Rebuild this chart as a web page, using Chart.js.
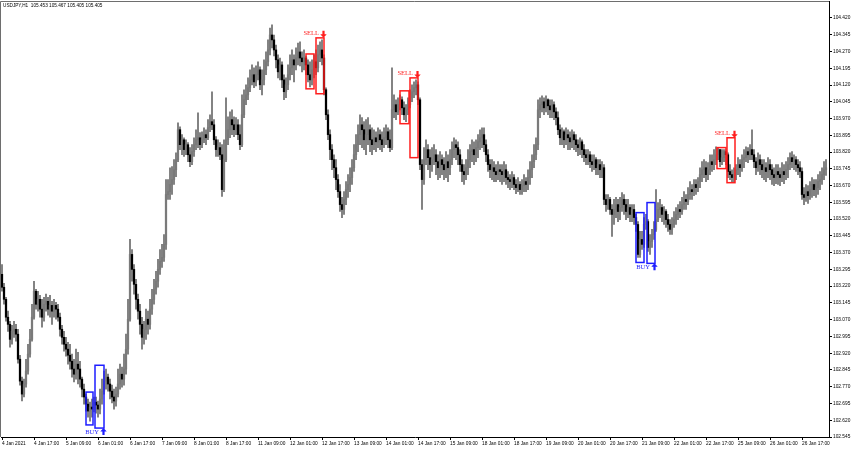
<!DOCTYPE html>
<html>
<head>
<meta charset="utf-8">
<title>USDJPY H1</title>
<script src="https://cdn.jsdelivr.net/npm/chart.js@4.4.1/dist/chart.umd.min.js"></script>
<style>
  html, body { margin: 0; padding: 0; background: #fff; }
  #wrap { width: 852px; height: 450px; }
</style>
</head>
<body>
<div id="wrap"><canvas id="chart" width="852" height="450"></canvas></div>
<script>
// USDJPY H1, one entry per hourly bar from 4 Jan 2021
const chartTitle = 'USDJPY,H1  105.453 105.467 105.405 105.405';
const firstOpen = 103.273;

const highs = [
  103.317, 103.233, 103.170, 103.108, 103.063, 103.045, 103.063, 103.049, 103.027, 102.911,
  102.813, 102.804, 102.893, 102.960, 103.027, 103.139, 103.242, 103.206, 103.197, 103.179,
  103.161, 103.170, 103.184, 103.170, 103.179, 103.152, 103.161, 103.148, 103.139, 103.099,
  103.045, 103.018, 102.991, 102.969, 102.960, 102.916, 102.893, 102.938, 102.924, 102.884,
  102.813, 102.782, 102.737, 102.715, 102.701, 102.715, 102.724, 102.724, 102.706, 102.759,
  102.804, 102.840, 102.849, 102.826, 102.804, 102.777, 102.759, 102.768, 102.849, 102.871,
  102.858, 102.916, 103.005, 103.161, 103.429, 103.384, 103.317, 103.250, 103.184, 103.139,
  103.081, 103.063, 103.117, 103.108, 103.161, 103.206, 103.250, 103.286, 103.340, 103.384,
  103.407, 103.451, 103.697, 103.697, 103.750, 103.755, 103.786, 103.817, 103.951, 103.933,
  103.898, 103.884, 103.875, 103.862, 103.840, 103.853, 103.884, 103.920, 103.996, 103.907,
  103.911, 103.929, 103.920, 103.965, 103.987, 104.090, 103.965, 103.889, 103.875, 103.862,
  103.853, 103.875, 104.063, 103.978, 104.000, 104.009, 103.978, 103.974, 103.965, 103.942,
  104.076, 104.099, 104.121, 104.152, 104.188, 104.210, 104.197, 104.206, 104.224, 104.201,
  104.188, 104.233, 104.268, 104.322, 104.375, 104.389, 104.344, 104.299, 104.255, 104.241,
  104.224, 104.166, 104.152, 104.210, 104.255, 104.277, 104.255, 104.286, 104.308, 104.313,
  104.268, 104.277, 104.250, 104.233, 104.224, 104.233, 104.255, 104.277, 104.299, 104.313,
  104.322, 104.255, 104.108, 104.009, 103.920, 103.853, 103.808, 103.786, 103.719, 103.675,
  103.617, 103.643, 103.688, 103.719, 103.750, 103.786, 103.853, 103.898, 103.942, 103.987,
  103.974, 103.956, 103.965, 103.974, 103.942, 103.929, 103.920, 103.911, 103.929, 103.920,
  103.911, 103.929, 103.942, 103.929, 103.920, 104.197, 104.076, 104.054, 104.063, 104.076,
  104.067, 104.045, 104.032, 104.063, 104.099, 104.121, 104.134, 104.143, 104.134, 104.063,
  103.786, 103.840, 103.875, 103.853, 103.831, 103.840, 103.853, 103.831, 103.808, 103.822,
  103.808, 103.795, 103.822, 103.808, 103.831, 103.866, 103.884, 103.875, 103.866, 103.831,
  103.786, 103.764, 103.786, 103.831, 103.853, 103.875, 103.866, 103.875, 103.898, 103.920,
  103.929, 103.929, 103.875, 103.831, 103.786, 103.786, 103.777, 103.764, 103.777, 103.764,
  103.764, 103.777, 103.764, 103.733, 103.719, 103.733, 103.719, 103.697, 103.706, 103.688,
  103.697, 103.719, 103.706, 103.741, 103.777, 103.808, 103.853, 103.884, 104.054, 104.063,
  104.072, 104.063, 104.072, 104.058, 104.054, 104.054, 104.045, 104.018, 104.000, 103.942,
  103.929, 103.920, 103.929, 103.920, 103.911, 103.920, 103.911, 103.898, 103.875, 103.884,
  103.875, 103.853, 103.831, 103.831, 103.822, 103.808, 103.808, 103.795, 103.786, 103.786,
  103.777, 103.764, 103.630, 103.630, 103.617, 103.585, 103.608, 103.617, 103.608, 103.617,
  103.639, 103.630, 103.608, 103.608, 103.585, 103.585, 103.585, 103.541, 103.509, 103.465,
  103.465, 103.527, 103.541, 103.518, 103.451, 103.474, 103.509, 103.652, 103.594, 103.608,
  103.585, 103.576, 103.563, 103.541, 103.518, 103.527, 103.554, 103.572, 103.585, 103.599,
  103.617, 103.643, 103.630, 103.661, 103.688, 103.675, 103.697, 103.697, 103.706, 103.750,
  103.777, 103.786, 103.777, 103.773, 103.808, 103.808, 103.831, 103.844, 103.840, 103.831,
  103.831, 103.831, 103.831, 103.817, 103.764, 103.741, 103.750, 103.764, 103.795, 103.786,
  103.808, 103.831, 103.844, 103.840, 103.853, 103.920, 103.831, 103.795, 103.817, 103.808,
  103.786, 103.786, 103.773, 103.795, 103.786, 103.764, 103.750, 103.764, 103.764, 103.750,
  103.773, 103.764, 103.777, 103.795, 103.817, 103.822, 103.808, 103.800, 103.786, 103.777,
  103.750, 103.661, 103.675, 103.670, 103.688, 103.706, 103.697, 103.697, 103.719, 103.733,
  103.750, 103.777, 103.786
];

const lows = [
  103.197, 103.139, 103.063, 103.018, 102.947, 102.960, 102.991, 102.974, 102.875, 102.777,
  102.706, 102.724, 102.768, 102.826, 102.902, 102.974, 103.072, 103.117, 103.108, 103.081,
  103.036, 103.063, 103.108, 103.090, 103.081, 103.049, 103.081, 103.072, 103.063, 102.996,
  102.960, 102.929, 102.907, 102.871, 102.849, 102.813, 102.791, 102.804, 102.782, 102.768,
  102.724, 102.692, 102.661, 102.634, 102.616, 102.634, 102.657, 102.652, 102.634, 102.648,
  102.692, 102.737, 102.759, 102.750, 102.715, 102.697, 102.670, 102.683, 102.724, 102.759,
  102.768, 102.777, 102.826, 102.916, 103.063, 103.242, 103.184, 103.117, 103.072, 103.005,
  102.938, 102.960, 102.982, 103.005, 103.027, 103.094, 103.139, 103.184, 103.215, 103.273,
  103.304, 103.331, 103.384, 103.608, 103.608, 103.630, 103.675, 103.710, 103.777, 103.831,
  103.808, 103.800, 103.808, 103.777, 103.755, 103.764, 103.800, 103.831, 103.840, 103.831,
  103.840, 103.862, 103.853, 103.875, 103.911, 103.920, 103.853, 103.800, 103.800, 103.786,
  103.621, 103.643, 103.777, 103.853, 103.884, 103.898, 103.889, 103.898, 103.875, 103.831,
  103.844, 103.974, 104.032, 104.054, 104.090, 104.121, 104.108, 104.116, 104.143, 104.099,
  104.076, 104.121, 104.166, 104.206, 104.255, 104.286, 104.250, 104.197, 104.152, 104.143,
  104.108, 104.054, 104.063, 104.099, 104.143, 104.166, 104.134, 104.188, 104.210, 104.206,
  104.179, 104.188, 104.166, 104.134, 104.112, 104.121, 104.152, 104.166, 104.179, 104.224,
  104.210, 104.076, 103.965, 103.875, 103.786, 103.741, 103.706, 103.652, 103.617, 103.554,
  103.527, 103.541, 103.585, 103.617, 103.643, 103.675, 103.733, 103.786, 103.822, 103.853,
  103.840, 103.831, 103.808, 103.853, 103.822, 103.808, 103.831, 103.822, 103.840, 103.831,
  103.822, 103.840, 103.853, 103.840, 103.822, 103.831, 103.974, 103.965, 103.987, 104.009,
  103.987, 103.965, 103.956, 103.987, 104.018, 104.045, 104.063, 104.076, 104.032, 103.741,
  103.563, 103.675, 103.764, 103.741, 103.706, 103.733, 103.764, 103.719, 103.697, 103.706,
  103.719, 103.697, 103.706, 103.688, 103.719, 103.764, 103.795, 103.786, 103.764, 103.733,
  103.688, 103.675, 103.697, 103.719, 103.750, 103.777, 103.764, 103.777, 103.795, 103.831,
  103.840, 103.822, 103.777, 103.733, 103.706, 103.697, 103.688, 103.688, 103.697, 103.688,
  103.675, 103.688, 103.675, 103.661, 103.652, 103.661, 103.652, 103.634, 103.643, 103.630,
  103.630, 103.643, 103.643, 103.652, 103.675, 103.706, 103.750, 103.786, 103.831, 103.974,
  104.000, 103.987, 104.000, 103.987, 103.974, 103.974, 103.965, 103.942, 103.898, 103.853,
  103.853, 103.840, 103.853, 103.831, 103.831, 103.840, 103.831, 103.822, 103.804, 103.808,
  103.795, 103.777, 103.764, 103.764, 103.750, 103.733, 103.741, 103.719, 103.719, 103.706,
  103.706, 103.585, 103.554, 103.563, 103.541, 103.442, 103.496, 103.527, 103.509, 103.518,
  103.554, 103.541, 103.518, 103.527, 103.509, 103.509, 103.496, 103.465, 103.349, 103.349,
  103.384, 103.393, 103.474, 103.375, 103.362, 103.393, 103.429, 103.465, 103.509, 103.527,
  103.509, 103.496, 103.483, 103.465, 103.451, 103.451, 103.483, 103.496, 103.518, 103.527,
  103.541, 103.563, 103.563, 103.585, 103.608, 103.608, 103.625, 103.630, 103.643, 103.661,
  103.688, 103.706, 103.688, 103.697, 103.719, 103.733, 103.741, 103.764, 103.786, 103.755,
  103.764, 103.777, 103.764, 103.706, 103.697, 103.683, 103.688, 103.697, 103.719, 103.710,
  103.733, 103.750, 103.777, 103.773, 103.786, 103.786, 103.750, 103.719, 103.733, 103.719,
  103.706, 103.697, 103.688, 103.706, 103.697, 103.675, 103.670, 103.679, 103.675, 103.670,
  103.688, 103.679, 103.697, 103.706, 103.741, 103.750, 103.741, 103.733, 103.719, 103.706,
  103.608, 103.585, 103.599, 103.590, 103.608, 103.617, 103.625, 103.617, 103.630, 103.652,
  103.675, 103.697, 103.715
];

const closes = [
  103.215, 103.161, 103.081, 103.049, 102.982, 103.018, 103.027, 103.005, 102.893, 102.795,
  102.737, 102.782, 102.840, 102.916, 102.982, 103.081, 103.197, 103.139, 103.161, 103.117,
  103.081, 103.139, 103.152, 103.117, 103.134, 103.108, 103.134, 103.117, 103.081, 103.027,
  102.991, 102.960, 102.938, 102.911, 102.884, 102.849, 102.826, 102.871, 102.849, 102.804,
  102.759, 102.724, 102.692, 102.661, 102.679, 102.670, 102.701, 102.688, 102.670, 102.715,
  102.750, 102.795, 102.813, 102.782, 102.750, 102.724, 102.706, 102.737, 102.782, 102.826,
  102.804, 102.849, 102.938, 103.072, 103.362, 103.295, 103.228, 103.161, 103.108, 103.049,
  102.991, 103.027, 103.072, 103.049, 103.117, 103.161, 103.206, 103.242, 103.295, 103.331,
  103.349, 103.407, 103.630, 103.643, 103.675, 103.697, 103.741, 103.786, 103.920, 103.853,
  103.875, 103.831, 103.853, 103.808, 103.777, 103.822, 103.853, 103.875, 103.884, 103.853,
  103.875, 103.898, 103.884, 103.929, 103.956, 103.942, 103.875, 103.831, 103.840, 103.808,
  103.652, 103.786, 103.875, 103.920, 103.965, 103.942, 103.920, 103.942, 103.898, 103.853,
  103.987, 104.054, 104.076, 104.108, 104.143, 104.166, 104.134, 104.166, 104.188, 104.121,
  104.143, 104.188, 104.224, 104.277, 104.344, 104.322, 104.277, 104.233, 104.179, 104.210,
  104.143, 104.090, 104.121, 104.166, 104.197, 104.233, 104.210, 104.241, 104.268, 104.241,
  104.224, 104.241, 104.210, 104.166, 104.143, 104.188, 104.224, 104.197, 104.255, 104.277,
  104.241, 104.099, 103.987, 103.898, 103.831, 103.786, 103.750, 103.697, 103.643, 103.585,
  103.563, 103.608, 103.652, 103.675, 103.706, 103.750, 103.808, 103.853, 103.898, 103.942,
  103.920, 103.875, 103.898, 103.920, 103.875, 103.853, 103.884, 103.866, 103.898, 103.875,
  103.853, 103.884, 103.911, 103.875, 103.840, 104.009, 104.032, 104.000, 104.032, 104.054,
  104.018, 103.987, 104.009, 104.032, 104.063, 104.090, 104.108, 104.121, 104.054, 103.764,
  103.697, 103.786, 103.831, 103.795, 103.764, 103.786, 103.808, 103.777, 103.750, 103.786,
  103.764, 103.741, 103.777, 103.750, 103.786, 103.831, 103.853, 103.840, 103.808, 103.764,
  103.733, 103.719, 103.750, 103.786, 103.822, 103.831, 103.808, 103.840, 103.866, 103.884,
  103.898, 103.853, 103.808, 103.764, 103.741, 103.750, 103.733, 103.719, 103.741, 103.733,
  103.719, 103.741, 103.706, 103.697, 103.688, 103.706, 103.675, 103.661, 103.675, 103.652,
  103.670, 103.688, 103.675, 103.706, 103.741, 103.777, 103.808, 103.853, 104.009, 104.032,
  104.045, 104.018, 104.054, 104.027, 104.009, 104.032, 104.000, 103.974, 103.920, 103.884,
  103.911, 103.875, 103.898, 103.884, 103.866, 103.898, 103.875, 103.853, 103.840, 103.866,
  103.831, 103.808, 103.795, 103.808, 103.777, 103.764, 103.786, 103.750, 103.764, 103.741,
  103.750, 103.608, 103.585, 103.608, 103.563, 103.541, 103.563, 103.585, 103.554, 103.572,
  103.608, 103.585, 103.554, 103.572, 103.541, 103.563, 103.527, 103.496, 103.362, 103.429,
  103.407, 103.496, 103.509, 103.393, 103.420, 103.451, 103.474, 103.518, 103.563, 103.572,
  103.541, 103.554, 103.518, 103.496, 103.474, 103.496, 103.518, 103.541, 103.563, 103.554,
  103.585, 103.608, 103.599, 103.630, 103.652, 103.643, 103.675, 103.661, 103.688, 103.719,
  103.741, 103.750, 103.719, 103.741, 103.777, 103.764, 103.786, 103.808, 103.831, 103.777,
  103.795, 103.822, 103.808, 103.733, 103.719, 103.706, 103.719, 103.741, 103.764, 103.750,
  103.786, 103.795, 103.822, 103.808, 103.831, 103.808, 103.777, 103.750, 103.786, 103.764,
  103.741, 103.750, 103.733, 103.764, 103.741, 103.719, 103.706, 103.733, 103.719, 103.706,
  103.733, 103.719, 103.741, 103.764, 103.795, 103.777, 103.786, 103.764, 103.750, 103.733,
  103.630, 103.617, 103.643, 103.625, 103.652, 103.675, 103.652, 103.661, 103.688, 103.697,
  103.719, 103.741, 103.750
];

// bottom axis labels, one every 16 bars
const timeLabels = [
  '4 Jan 2021', '4 Jan 17:00', '5 Jan 09:00', '6 Jan 01:00', '6 Jan 17:00', '7 Jan 09:00',
  '8 Jan 01:00', '8 Jan 17:00', '11 Jan 09:00', '12 Jan 01:00', '12 Jan 17:00', '13 Jan 09:00',
  '14 Jan 01:00', '14 Jan 17:00', '15 Jan 09:00', '18 Jan 01:00', '18 Jan 17:00', '19 Jan 09:00',
  '20 Jan 01:00', '20 Jan 17:00', '21 Jan 09:00', '22 Jan 01:00', '22 Jan 17:00', '25 Jan 09:00',
  '26 Jan 01:00', '26 Jan 17:00'
];

const priceTicks = [
  102.545, 102.620, 102.695, 102.770, 102.845, 102.920, 102.995, 103.070, 103.145,
  103.220, 103.295, 103.370, 103.445, 103.520, 103.595, 103.670, 103.745, 103.820,
  103.895, 103.970, 104.045, 104.120, 104.195, 104.270, 104.345, 104.420
];

// signal boxes (bar index span, price span); label sits on the second box of each pair
const boxFrom   = [42, 46.5, 152, 157, 199, 204, 317, 322.5, 357.5, 362.5];
const boxTo     = [45.5, 51, 156, 161, 203.5, 208, 321, 326.5, 362, 366.5];
const boxTop    = [102.746, 102.866, 104.259, 104.331, 104.094, 104.152, 103.549, 103.594, 103.840, 103.884];
const boxBottom = [102.599, 102.585, 104.103, 104.081, 103.947, 103.795, 103.326, 103.322, 103.746, 103.683];
const boxSide   = ['buy', 'buy', 'sell', 'sell', 'sell', 'sell', 'buy', 'buy', 'sell', 'sell'];
const boxLabel  = ['', 'BUY', '', 'SELL', '', 'SELL', '', 'BUY', '', 'SELL'];

const opens = closes.map((c, i) => (i === 0 ? firstOpen : closes[i - 1]));
const wicks = highs.map((h, i) => ({
  x: i,
  y: [Math.min(lows[i], opens[i], closes[i]), Math.max(h, opens[i], closes[i])]
}));
const bodies = closes.map((c, i) => ({ x: i, y: [opens[i], c] }));
const bodyColors = closes.map((c, i) => (c < opens[i] ? '#000000' : '#7a7a7a'));

const axisFont = { family: "'Liberation Sans', sans-serif", size: 4.8 };

function drawArrow(ctx, cx, tipY, dir) {
  // dir = 1 points down, -1 points up
  const len = 7, head = 3.5, hw = 3.2, sw = 1.1;
  const baseY = tipY - dir * len;
  const neckY = tipY - dir * head;
  ctx.beginPath();
  ctx.moveTo(cx, tipY);
  ctx.lineTo(cx + hw, neckY);
  ctx.lineTo(cx + sw, neckY);
  ctx.lineTo(cx + sw, baseY);
  ctx.lineTo(cx - sw, baseY);
  ctx.lineTo(cx - sw, neckY);
  ctx.lineTo(cx - hw, neckY);
  ctx.closePath();
  ctx.fill();
}

const signalPlugin = {
  id: 'signals',
  afterDatasetsDraw(chart) {
    const { ctx, scales: { x, y } } = chart;
    ctx.save();
    boxFrom.forEach((from, k) => {
      const color = boxSide[k] === 'buy' ? '#1e1eff' : '#ff1e1e';
      const left = x.getPixelForValue(from);
      const right = x.getPixelForValue(boxTo[k]);
      const top = y.getPixelForValue(boxTop[k]);
      const bottom = y.getPixelForValue(boxBottom[k]);
      ctx.strokeStyle = color;
      ctx.lineWidth = 1.5;
      ctx.strokeRect(left, top, right - left, bottom - top);
      if (!boxLabel[k]) return;
      ctx.fillStyle = color;
      ctx.font = "6.5px 'Liberation Serif', serif";
      ctx.textAlign = 'right';
      if (boxSide[k] === 'sell') {
        ctx.textBaseline = 'bottom';
        ctx.fillText(boxLabel[k], right - 5, top - 1);
        drawArrow(ctx, right - 0.5, top, 1);
      } else {
        ctx.textBaseline = 'top';
        ctx.fillText(boxLabel[k], right - 5, bottom + 1);
        drawArrow(ctx, right - 0.5, bottom, -1);
      }
    });
    ctx.restore();
  }
};

const framePlugin = {
  id: 'frame',
  beforeDraw(chart) {
    const { ctx, width, height } = chart;
    ctx.save();
    ctx.fillStyle = '#ffffff';
    ctx.fillRect(0, 0, width, height);
    ctx.restore();
  },
  afterDraw(chart) {
    const { ctx, chartArea: a } = chart;
    ctx.save();
    ctx.strokeStyle = '#6e6e6e';
    ctx.lineWidth = 1;
    ctx.beginPath();
    ctx.moveTo(0.5, a.bottom);
    ctx.lineTo(0.5, 1.5);
    ctx.lineTo(a.right, 1.5);
    ctx.stroke();
    ctx.fillStyle = '#000000';
    ctx.font = "4.7px 'Liberation Sans', sans-serif";
    ctx.textBaseline = 'middle';
    ctx.fillText(chartTitle, 3, 6);
    ctx.restore();
  }
};

new Chart(document.getElementById('chart'), {
  type: 'bar',
  data: {
    datasets: [
      {
        label: 'wick',
        data: wicks,
        backgroundColor: '#6a6a6a',
        barThickness: 1,
        grouped: false,
        order: 2
      },
      {
        label: 'body',
        data: bodies,
        backgroundColor: bodyColors,
        barThickness: 1.6,
        grouped: false,
        order: 1
      }
    ]
  },
  options: {
    responsive: false,
    animation: false,
    events: [],
    layout: { padding: { top: 1, left: 1, right: 0, bottom: 0 } },
    plugins: {
      legend: { display: false },
      tooltip: { enabled: false }
    },
    scales: {
      x: {
        type: 'linear',
        position: 'bottom',
        offset: false,
        min: -0.5,
        max: 413.5,
        afterBuildTicks: s => { s.ticks = timeLabels.map((_, k) => ({ value: k * 16 })); },
        afterFit: s => { s.height = 13; s.paddingLeft = 0; s.paddingRight = 0; },
        ticks: {
          autoSkip: false,
          maxRotation: 0,
          minRotation: 0,
          align: 'start',
          padding: 1,
          color: '#000',
          font: axisFont,
          callback: v => timeLabels[Math.round(v / 16)]
        },
        grid: { offset: false, drawOnChartArea: false, drawTicks: true, tickLength: 3, color: '#000' },
        border: { display: true, color: '#000' }
      },
      y: {
        type: 'linear',
        position: 'right',
        min: 102.545,
        max: 104.496,
        afterBuildTicks: s => { s.ticks = priceTicks.map(v => ({ value: v })); },
        afterFit: s => { s.width = 23; s.paddingTop = 0; s.paddingBottom = 0; },
        ticks: {
          padding: 1,
          color: '#000',
          font: axisFont,
          callback: v => v.toFixed(3)
        },
        grid: { drawOnChartArea: false, drawTicks: true, tickLength: 3, color: '#000' },
        border: { display: true, color: '#000' }
      }
    }
  },
  plugins: [framePlugin, signalPlugin]
});
</script>
</body>
</html>
